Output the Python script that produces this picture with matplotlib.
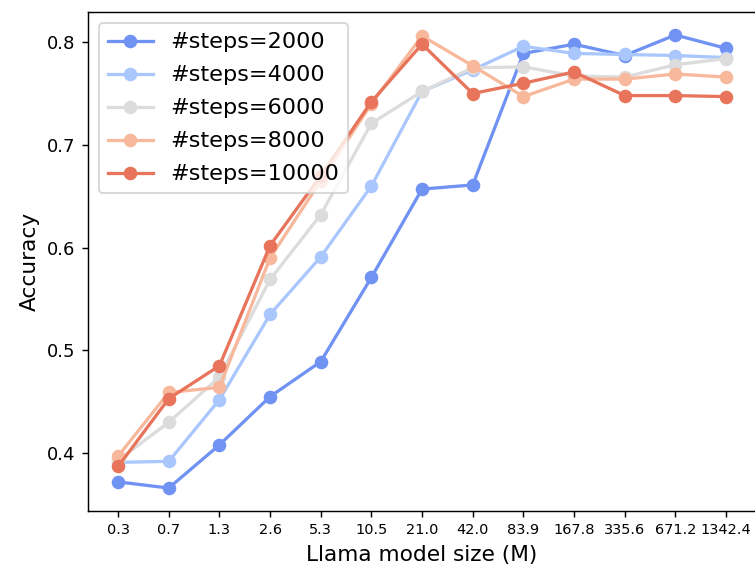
import matplotlib
matplotlib.use("Agg")
import matplotlib.pyplot as plt
import seaborn as sns
import numpy as np

# model sizes (M) shown as categorical ticks
sizes = ["0.3", "0.7", "1.3", "2.6", "5.3", "10.5", "21.0", "42.0",
         "83.9", "167.8", "335.6", "671.2", "1342.4"]
steps = [2000, 4000, 6000, 8000, 10000]

acc_2000 = [0.372, 0.366, 0.408, 0.455, 0.489, 0.571, 0.657, 0.661,
            0.789, 0.798, 0.787, 0.807, 0.794]
acc_4000 = [0.391, 0.392, 0.452, 0.535, 0.591, 0.660, 0.752, 0.773,
            0.796, 0.789, 0.788, 0.787, 0.785]
acc_6000 = [0.393, 0.430, 0.474, 0.569, 0.632, 0.721, 0.752, 0.775,
            0.776, 0.767, 0.766, 0.778, 0.784]
acc_8000 = [0.397, 0.459, 0.464, 0.590, 0.665, 0.740, 0.806, 0.777,
            0.747, 0.764, 0.764, 0.769, 0.766]
acc_10000 = [0.387, 0.453, 0.485, 0.602, 0.670, 0.742, 0.798, 0.750,
             0.760, 0.771, 0.748, 0.748, 0.747]
all_acc = [acc_2000, acc_4000, acc_6000, acc_8000, acc_10000]

colors = sns.color_palette("coolwarm", len(steps))

fig = plt.figure(figsize=(755 / 130, 567 / 130), dpi=130)
ax = fig.add_axes([87.7 / 755, 56.3 / 567, 668.7 / 755, 498.4 / 567])

x = np.arange(len(sizes))
for s, acc, c in zip(steps, all_acc, colors):
    ax.plot(x, acc, marker="o", color=c, lw=1.8, ms=6.5, label="#steps=" + str(s))

ax.set_xticks(x)
ax.set_xticklabels(sizes, fontsize=8)
ax.tick_params(axis="y", labelsize=10)
ax.set_xlabel("Llama model size (M)", fontsize=12)
ax.set_ylabel("Accuracy", fontsize=12)
ax.legend(loc="upper left", fontsize=12.4, labelspacing=0.58)

plt.savefig("out.png", dpi=130)
